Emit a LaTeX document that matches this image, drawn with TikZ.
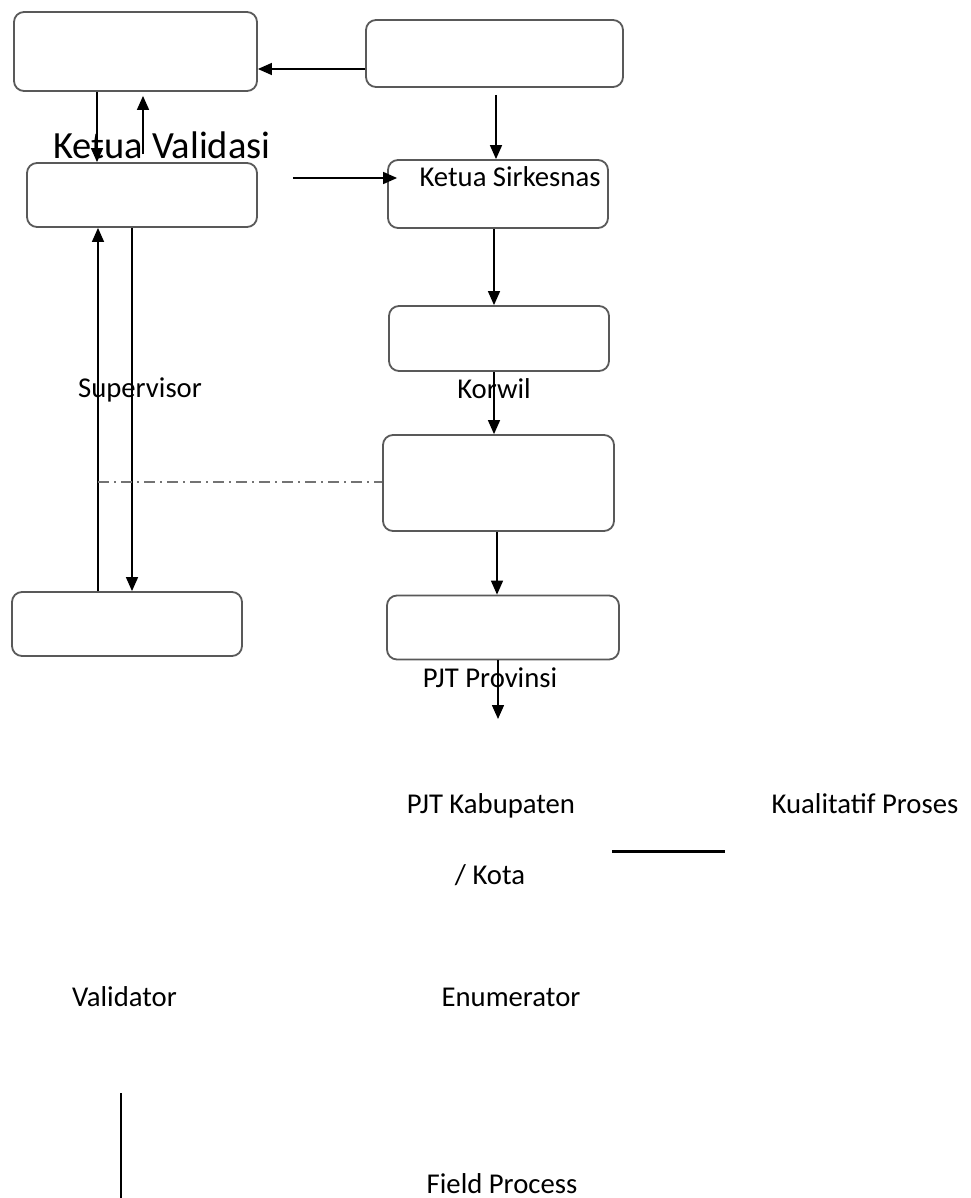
\documentclass[tikz,border=0pt]{standalone}
\usepackage{fontspec}
\setmainfont{Carlito}
\usetikzlibrary{arrows.meta}
\newcommand{\lblSize}[0]{\fontsize{28.7}{34}\selectfont}
\newcommand{\bigSize}[0]{\fontsize{38.5}{44}\selectfont}

\begin{document}
\begin{tikzpicture}[x=1pt, y=-1pt]
  \tikzset{
    box/.style={draw=black!65, line width=1.8pt, rounded corners=10pt, inner sep=0pt},
    lbl/.style={inner sep=0pt, anchor=base, font=\lblSize},
    arr/.style={line width=1.5pt, -{Triangle[length=14pt, width=12pt]}},
    dashdot/.style={draw=black!55, line width=1.3pt, dash pattern=on 11pt off 5pt on 2pt off 5pt}
  }
  \useasboundingbox (0,0) rectangle (970,1198);
  % boxes
  \node[box, minimum width=243pt, minimum height=79pt] (box-1-1) at (135.5,51.5) {};
  \node[box, minimum width=257pt, minimum height=67pt] (box-1-2) at (494.5,53.5) {};
  \node[box, minimum width=230pt, minimum height=64pt] (box-2-1) at (142,195) {};
  \node[box, minimum width=220pt, minimum height=68pt] (box-2-2) at (498,194) {};
  \node[box, minimum width=220pt, minimum height=65pt] (box-3-2) at (499,338.5) {};
  \node[box, minimum width=231pt, minimum height=96pt] (box-4-2) at (498.5,483) {};
  \node[box, minimum width=230pt, minimum height=64pt] (box-3-1) at (127,624) {};
  \node[box, minimum width=232pt, minimum height=64pt] (box-5-2) at (503,627.5) {};
  % labels
  \node[lbl, font=\bigSize] (lbl-kv) at (162,159) {Ketua Validasi};
  \node[lbl] (lbl-ks) at (510,187) {Ketua Sirkesnas};
  \node[lbl] (lbl-sup) at (140,397) {Supervisor};
  \node[lbl] (lbl-kor) at (494,398) {Korwil};
  \node[lbl] (lbl-prov) at (490,687) {PJT Provinsi};
  \node[lbl] (lbl-kab) at (491,813) {PJT Kabupaten};
  \node[lbl] (lbl-kota) at (490,884) {/ Kota};
  \node[lbl] (lbl-kual) at (865,813) {Kualitatif Proses};
  \node[lbl] (lbl-val) at (124.5,1006) {Validator};
  \node[lbl] (lbl-enu) at (511,1006) {Enumerator};
  \node[lbl] (lbl-fp) at (502,1193) {Field Process};
  \coordinate (end-1) at (498,719);
  \coordinate (dd-1) at (98,482);
  % connectors
  \draw[arr] (box-1-2.west |- 0,69) -- (box-1-1.east |- 0,69);
  \draw[arr] (box-1-1.south -| 97,0) -- (box-2-1.north -| 97,0);
  \draw[arr] ([yshift=8pt]box-2-1.north -| 143,0) -- ([yshift=-4pt]box-1-1.south -| 143,0);
  \draw[arr] ([xshift=35pt]box-2-1.east |- 0,178) -- ([xshift=10pt]box-2-2.west |- 0,178);
  \draw[arr] ([yshift=-7pt]box-1-2.south -| 496,0) -- (box-2-2.north -| 496,0);
  \draw[arr] (box-2-2.south -| 494,0) -- (box-3-2.north -| 494,0);
  \draw[arr] (box-3-2.south -| 494,0) -- (box-4-2.north -| 494,0);
  \draw[arr] (box-4-2.south -| 497,0) -- (box-5-2.north -| 497,0);
  \draw[arr] (box-5-2.south -| 498,0) -- (end-1);
  \draw[arr] (box-3-1.north -| 98,0) -- (box-2-1.south -| 98,0);
  \draw[arr] (box-2-1.south -| 132,0) -- (box-3-1.north -| 132,0);
  \draw[dashdot] (dd-1) -- (box-4-2.west |- dd-1);
  \draw[line width=3pt] (612,851) -- (725,851);
  \draw[line width=2.2pt] (121,1093) -- (121,1198);
\end{tikzpicture}
\end{document}
